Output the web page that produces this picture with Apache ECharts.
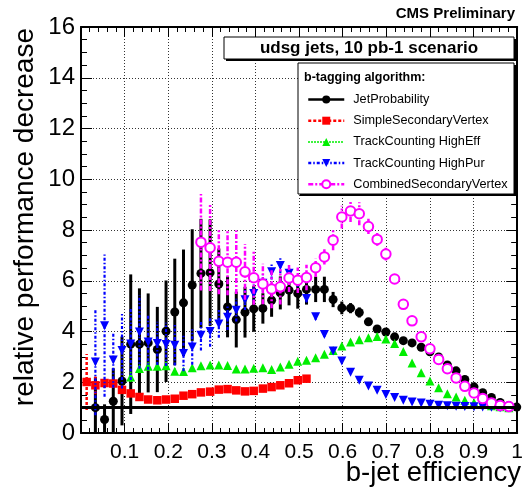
<!DOCTYPE html>
<html>
<head>
<meta charset="utf-8">
<script src="https://cdn.jsdelivr.net/npm/echarts@6/dist/echarts.min.js"></script>
<style>
html,body{margin:0;padding:0;background:#fff;}
#chart{width:526px;height:490px;}
</style>
</head>
<body>
<div id="chart"></div>
<script>
// b-jet efficiency of each working point
var effs = [0.013,0.033,0.054,0.074,0.094,0.114,0.134,0.154,0.175,0.195,
            0.215,0.235,0.255,0.275,0.296,0.316,0.336,0.356,0.376,0.396,
            0.417,0.437,0.457,0.477,0.497,0.517,0.538,0.558,0.578,0.598,
            0.618,0.638,0.659,0.679,0.699,0.719,0.739,0.759,0.780,0.800,
            0.820,0.840,0.860,0.880,0.901,0.921,0.941,0.961,0.981,0.999];

var jetProb = [null,1.0,0.53,1.25,2.05,3.5,3.5,3.55,3.29,4.01,
               4.77,5.13,5.83,6.29,6.32,5.87,4.97,4.47,4.76,4.89,
               4.91,5.23,5.52,5.63,5.5,5.66,5.66,5.66,5.26,4.93,
               4.92,4.75,4.38,4.1,3.98,3.79,3.64,3.55,3.38,3.2,
               3.0,2.68,2.45,2.11,1.82,1.59,1.4,1.2,1.08,1.02];
var jetProbErr = [0,1.2,0.6,1.3,1.75,2.75,2.2,1.95,1.68,2.0,
                  2.1,2.1,2.2,2.15,2.1,1.4,1.2,1.1,1.0,0.9,
                  0.6,0.65,0.65,0.6,0.6,0.6,0.5,0.5,0.3,0.25,
                  0.2,0.2,0.15,0.1,0.05,0.05,0.05,0.05,0.05,0.05,
                  0.05,0.05,0.05,0.05,0.05,0.05,0.05,0.05,0.05,0.05];

var ssv = [2.01,1.88,1.97,1.95,1.7,1.56,1.42,1.32,1.29,1.32,
           1.35,1.47,1.53,1.6,1.63,1.71,1.73,1.68,1.64,1.66,
           1.75,1.81,1.88,1.96,2.08,2.14,null,null,null,null,
           null,null,null,null,null,null,null,null,null,null,
           null,null,null,null,null,null,null,null,null,null];
var ssvErr = [1.1,0.35,0.2,0.15,0.12,0.1,0.08,0.08,0.08,0.08,
              0.08,0.07,0.07,0.07,0.07,0.07,0.07,0.07,0.06,0.06,
              0.06,0.06,0.06,0.06,0.06,0.06,0,0,0,0,
              0,0,0,0,0,0,0,0,0,0,
              0,0,0,0,0,0,0,0,0,0];

var tche = [null,null,null,null,null,2.21,2.54,2.63,2.63,2.65,
            2.43,2.42,2.57,2.65,2.68,2.68,2.66,2.52,2.52,2.55,
            2.57,2.5,2.6,2.71,2.83,2.87,2.97,3.1,3.25,3.43,
            3.59,3.67,3.75,3.8,3.7,3.53,3.21,2.76,2.37,2.05,
            1.78,1.55,1.42,1.29,1.2,1.13,1.07,1.03,1.0,null];
var tcheErr = [0,0,0,0,0,0.2,0.18,0.15,0.15,0.15,
               0.13,0.13,0.12,0.12,0.12,0.12,0.12,0.12,0.12,0.12,
               0.1,0.1,0.1,0.1,0.1,0.1,0.1,0.1,0.08,0.08,
               0.08,0.08,0.08,0.08,0.08,0.08,0.05,0.05,0.05,0.05,
               0.05,0.05,0.05,0.05,0.05,0.05,0.05,0.05,0.05,0];

var tchp = [null,2.8,4.23,2.88,3.25,3.51,3.98,3.59,3.53,3.49,
            3.46,3.13,3.39,3.85,4.0,4.3,4.56,4.84,5.25,5.5,
            5.9,6.35,6.6,6.3,5.96,5.3,4.58,3.88,3.23,2.84,
            2.39,2.08,1.85,1.68,1.52,1.4,1.29,1.22,1.18,1.13,
            1.09,1.07,1.05,1.04,1.03,1.02,1.01,1.0,1.0,null];
var tchpErr = [0,2.1,2.8,1.1,1.5,1.42,1.45,1.1,0.85,0.85,
               0.8,0.7,0.7,0.6,0.6,0.55,0.5,0.45,0.4,0.35,
               0.35,0.3,0.3,0.25,0.2,0.15,0.12,0.1,0.08,0.05,
               0.05,0.05,0.05,0.05,0.05,0.05,0.05,0.05,0.05,0.05,
               0.05,0.05,0.05,0.05,0.05,0.05,0.05,0.05,0.05,0];

var csv = [null,null,null,null,null,null,null,null,null,null,
           null,null,null,7.52,7.3,6.77,6.73,6.73,6.35,6.12,
           5.87,5.67,5.76,6.11,6.02,6.13,6.51,6.94,7.6,8.51,
           8.75,8.64,8.14,7.63,7.05,6.07,5.07,4.42,3.79,3.32,
           2.9,2.53,2.17,1.84,1.58,1.36,1.18,1.08,1.04,null];
var csvErr = [0,0,0,0,0,0,0,0,0,0,
              0,0,0,1.9,1.7,1.3,1.3,1.25,1.1,1.07,
              0.8,0.75,0.7,0.55,0.5,0.5,0.36,0.3,0.4,0.45,
              0.43,0.45,0.3,0.25,0.25,0.15,0.08,0.08,0.08,0.08,
              0.08,0.08,0.08,0.08,0.08,0.08,0.08,0.08,0.08,0];

var xTicks = [0.1,0.2,0.3,0.4,0.5,0.6,0.7,0.8,0.9,1];
var yTicks = [0,2,4,6,8,10,12,14,16];

var FONT = 'Liberation Sans, Arial, Helvetica, sans-serif';

var algos = [
  {name:'JetProbability', vals:jetProb, errs:jetProbErr, color:'#000000', symbol:'circle', size:9, rot:0, dash:'solid', lw:2.5, bw:3},
  {name:'SimpleSecondaryVertex', vals:ssv, errs:ssvErr, color:'#ff0000', symbol:'rect', size:8.5, rot:0, dash:[3,2], lw:2.5, bw:2.5},
  {name:'TrackCounting HighEff', vals:tche, errs:tcheErr, color:'#00ee00', symbol:'triangle', size:9, rot:0, dash:[1.5,1.5], lw:2, bw:1.8},
  {name:'TrackCounting HighPur', vals:tchp, errs:tchpErr, color:'#0000ff', symbol:'triangle', size:9, rot:180, dash:[3,2,1.5,2], lw:2.5, bw:2.2},
  {name:'CombinedSecondaryVertex', vals:csv, errs:csvErr, color:'#ff00ff', symbol:'emptyCircle', size:9.5, rot:0, dash:[5,2,2,2], lw:2.5, bw:2.5}
];

function pts(vals){
  var out=[];
  for(var i=0;i<effs.length;i++){ if(vals[i]!=null) out.push([effs[i], vals[i]]); }
  return out;
}
function errPts(vals, errs){
  var out=[];
  for(var i=0;i<effs.length;i++){ if(vals[i]!=null && errs[i]>0) out.push([effs[i], vals[i], errs[i]]); }
  return out;
}
function errRender(color, width, dash){
  return function(params, api){
    var x=api.value(0), v=api.value(1), e=api.value(2);
    var lo=Math.max(0, v-e), hi=Math.min(16, v+e);
    var p1=api.coord([x, lo]), p2=api.coord([x, hi]);
    return {type:'line', shape:{x1:p1[0],y1:p1[1],x2:p2[0],y2:p2[1]},
            style:{stroke:color, lineWidth:width, lineDash: dash==='solid'?null:dash}};
  };
}

var series=[];
var legendData=[];
algos.forEach(function(a, idx){
  series.push({
    type:'custom', name:a.name+'_err', data:errPts(a.vals, a.errs),
    renderItem:errRender(a.color, a.bw, a.dash), z:2+idx*2, silent:true,
    encode:{x:0,y:1}
  });
  var empty = a.symbol==='emptyCircle';
  var s = {
    type:'line', name:a.name, data:pts(a.vals),
    symbol:a.symbol, symbolSize:a.size, symbolRotate:a.rot, showAllSymbol:true,
    lineStyle:{width:0, color:a.color, type:a.dash},
    itemStyle:{color:a.color, borderColor:a.color, borderWidth:empty?1.5:0},
    z:3+idx*2, silent:true
  };
  if(idx===0){
    s.markLine={silent:true, symbol:'none', label:{show:false},
      lineStyle:{color:'#000', width:3, type:'solid'}, data:[{yAxis:1}], z:20};
  }
  series.push(s);
  legendData.push({name:a.name, lineStyle:{width:a.lw, color:a.color, type:a.dash, opacity:1}});
});

var chart = echarts.init(document.getElementById('chart'), null, {renderer:'canvas'});
var gridL=81, gridR=5, gridT=27, gridB=57;
chart.setOption({
  animation:false,
  backgroundColor:'#ffffff',
  textStyle:{fontFamily:FONT},
  grid:{left:gridL, right:gridR, top:gridT, bottom:gridB, containLabel:false},
  xAxis:[
    {type:'value', min:0, max:1, interval:0.1, position:'bottom',
     axisLine:{show:true, onZero:false, lineStyle:{color:'#000', width:2}},
     axisTick:{show:true, inside:true, length:10, lineStyle:{color:'#000', width:1}},
     minorTick:{show:true, splitNumber:5, length:5, lineStyle:{color:'#000', width:1}},
     axisLabel:{show:true, fontSize:21, color:'#000', fontFamily:FONT, margin:9,
       formatter:function(v){ var r=Math.round(v*10)/10; return xTicks.indexOf(r)>=0 ? (r===1?'1':r.toFixed(1)) : ''; }},
     splitLine:{show:true, lineStyle:{color:'#333', width:1, type:[1,2]}}},
    {type:'value', min:0, max:1, interval:0.1, position:'top',
     axisLine:{show:true, onZero:false, lineStyle:{color:'#000', width:2}},
     axisTick:{show:true, inside:true, length:10, lineStyle:{color:'#000', width:1}},
     minorTick:{show:true, splitNumber:5, length:5, lineStyle:{color:'#000', width:1}},
     axisLabel:{show:false}, splitLine:{show:false}}
  ],
  yAxis:[
    {type:'value', min:0, max:16, interval:2, position:'left',
     axisLine:{show:true, onZero:false, lineStyle:{color:'#000', width:2}},
     axisTick:{show:true, inside:true, length:11, lineStyle:{color:'#000', width:1}},
     minorTick:{show:true, splitNumber:4, length:6, lineStyle:{color:'#000', width:1}},
     axisLabel:{show:true, fontSize:24, color:'#000', fontFamily:FONT, margin:6,
       formatter:function(v){ return yTicks.indexOf(Math.round(v))>=0 ? String(Math.round(v)) : ''; }},
     splitLine:{show:true, lineStyle:{color:'#333', width:1, type:[1,2]}}},
    {type:'value', min:0, max:16, interval:2, position:'right',
     axisLine:{show:true, onZero:false, lineStyle:{color:'#000', width:2}},
     axisTick:{show:true, inside:true, length:11, lineStyle:{color:'#000', width:1}},
     minorTick:{show:true, splitNumber:4, length:6, lineStyle:{color:'#000', width:1}},
     axisLabel:{show:false}, splitLine:{show:false}}
  ],
  legend:{
    show:true, orient:'vertical', left:307, top:93, padding:0, itemWidth:36, itemHeight:10, itemGap:8.2,
    selectedMode:false, data:legendData, z:6,
    textStyle:{fontSize:12.7, color:'#000', fontFamily:FONT, padding:[0,0,0,4], lineHeight:13}
  },
  graphic:[
    {type:'rect', z:5, shape:{x:226, y:39, width:290, height:22}, style:{fill:'#000'}},
    {type:'rect', z:5, shape:{x:224, y:37, width:290, height:22}, style:{fill:'#fff', stroke:'#000', lineWidth:1}},
    {type:'text', z:6, style:{x:369, y:48.5, text:'udsg jets, 10 pb-1 scenario', font:'bold 17px '+FONT, fill:'#000', textAlign:'center', textVerticalAlign:'middle'}},
    {type:'rect', z:5, shape:{x:300, y:65, width:216, height:131}, style:{fill:'#000'}},
    {type:'rect', z:5, shape:{x:298, y:63, width:216, height:131}, style:{fill:'#fff', stroke:'#000', lineWidth:1}},
    {type:'text', z:6, style:{x:304, y:77.5, text:'b-tagging algorithm:', font:'bold 12.5px '+FONT, fill:'#000', textAlign:'left', textVerticalAlign:'middle'}},
    {type:'text', z:6, style:{x:515, y:14, text:'CMS Preliminary', font:'bold 15px '+FONT, fill:'#000', textAlign:'right', textVerticalAlign:'middle'}},
    {type:'text', z:6, style:{x:521, y:473, text:'b-jet efficiency', font:'27.5px '+FONT, fill:'#000', textAlign:'right', textVerticalAlign:'middle'}},
    {type:'text', z:6, x:25, y:28, rotation:Math.PI/2, style:{x:0, y:0, text:'relative performance decrease', font:'28px '+FONT, fill:'#000', textAlign:'right', textVerticalAlign:'middle'}}
  ],
  series:series
});
</script>
</body>
</html>
